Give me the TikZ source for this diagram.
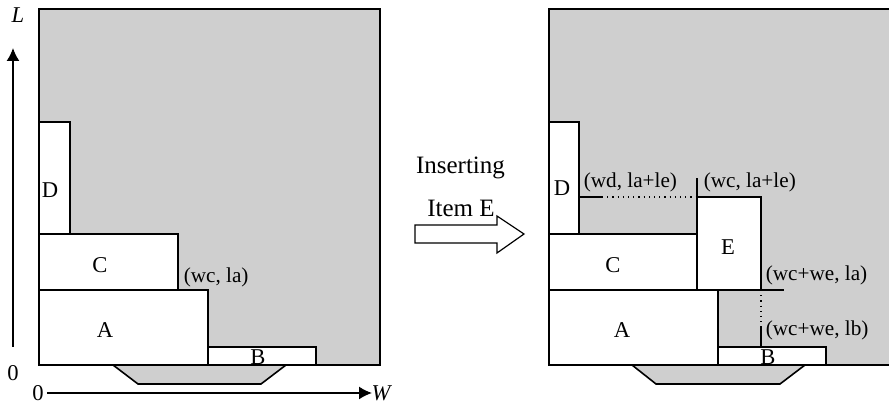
\documentclass[tikz,border=0pt]{standalone}
\usepackage{fontspec}
\setmainfont{Liberation Serif}
\usetikzlibrary{arrows.meta}

\begin{document}
\begin{tikzpicture}[x=0.5pt,y=0.5pt,line width=0.8pt,
    bin/.style={draw,fill=black!19},
    item/.style={draw,fill=white},
    tag/.style={inner sep=0pt,font=\fontsize{11.3}{13}\selectfont},
    coord/.style={anchor=west,inner sep=0pt,font=\fontsize{10.6}{12}\selectfont}]
    \useasboundingbox (-39,-40) rectangle (850,365);

    % Before inserting - axes and packed bin
    \begin{scope}[shift={(0,0)}]
        \draw[-{Latex[length=6.5pt,width=6.5pt]}] (-26,18) -- (-26,317);
        \draw[-{Latex[length=6.5pt,width=6.5pt]}] (8,-28) -- (333,-28);
        \node[tag] (lax) at (-21,350) {\textit{L}};
        \node[tag] (wax) at (343,-28) {\textit{W}};
        \node[tag] (zl) at (-26,-8) {0};
        \node[tag] (zw) at (-1,-28) {0};

        \draw[bin] (74,0) -- (99,-19) -- (222,-19) -- (247,0) -- cycle;
        \draw[bin] (0,0) rectangle (341,356);
        \draw[item] (0,0) rectangle (169,75);
        \draw[item] (169,0) rectangle (277,18);
        \draw[item] (0,75) rectangle (139,131);
        \draw[item] (0,131) rectangle (31,243);

        \node[tag] (da) at (66,35) {A};
        \node[tag] (db) at (219,8) {B};
        \node[tag] (dc) at (61,100) {C};
        \node[tag] (dd) at (11,175) {D};
        \node[coord] (wcla) at (144,88) {(wc, la)};
    \end{scope}

    % Arrow
    \draw[line width=0.6pt] (376,122) -- (458,122) -- (458,112) -- (485,131)
        -- (458,149) -- (458,140) -- (376,140) -- cycle;
    \node[font=\fontsize{12.5}{15}\selectfont] (ins) at (421.5,197) {Inserting};
    \node[font=\fontsize{12.5}{15}\selectfont] (ite) at (422,157) {Item E};

    % After inserting - item E placed beside C
    \begin{scope}[shift={(510,0)}]
        \draw[bin] (83,0) -- (107,-19) -- (231,-19) -- (256,0) -- cycle;
        \draw[bin] (0,0) rectangle (341,356);
        \draw[item] (0,0) rectangle (169,75);
        \draw[item] (169,0) rectangle (277,18);
        \draw[item] (0,75) rectangle (148,131);
        \draw[item] (0,131) rectangle (30,243);
        \draw[item] (148,75) rectangle (212,168);

        % corner points
        \draw (30,168) -- (53,168);
        \draw[dotted,line width=0.6pt] (53,168) -- (148,168);
        \draw (148,168) -- (148,187);
        \draw (212,75) -- (235,75);
        \draw (212,75) -- (212,93);
        \draw[dotted,line width=0.6pt] (212,75) -- (212,37);
        \draw (212,37) -- (212,18);

        \node[tag] (ea) at (73,35) {A};
        \node[tag] (eb) at (219,8) {B};
        \node[tag] (ec) at (64,100) {C};
        \node[tag] (ed) at (13,177) {D};
        \node[tag] (ee) at (179,118) {E};
        \node[coord] (wdle) at (34,183) {(wd, la+le)};
        \node[coord] (wcle) at (154,183) {(wc, la+le)};
        \node[coord] (wewa) at (216,90) {(wc+we, la)};
        \node[coord] (wewb) at (216,35) {(wc+we, lb)};
    \end{scope}
\end{tikzpicture}
\end{document}
